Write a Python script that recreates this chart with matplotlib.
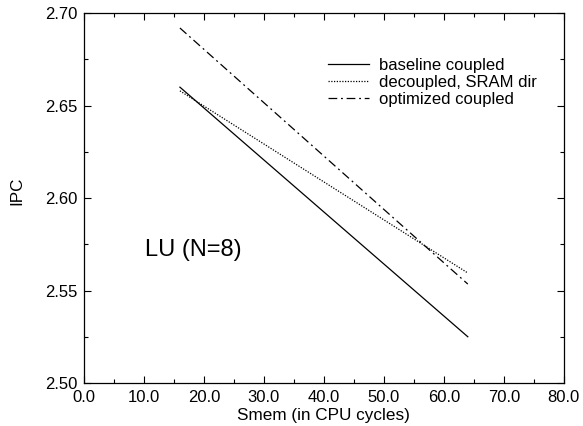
import matplotlib
matplotlib.use("Agg")
import matplotlib.pyplot as plt
from matplotlib.ticker import MultipleLocator, FormatStrFormatter

plt.rcParams['font.family'] = ['Liberation Sans', 'DejaVu Sans']

smem = [16, 64]
baseline = [2.660, 2.525]
decoupled = [2.658, 2.5595]
optimized = [2.692, 2.5535]
labels = ["baseline coupled", "decoupled, SRAM dir", "optimized coupled"]

fig = plt.figure(figsize=(5.83, 4.26), dpi=100)
ax = fig.add_axes([0.144, 0.101, 0.823, 0.868])

ax.plot(smem, baseline, color='black', lw=0.9, linestyle='-', label=labels[0])
ax.plot(smem, decoupled, color='black', lw=0.9, linestyle=(0, (1, 1.2)), label=labels[1])
ax.plot(smem, optimized, color='black', lw=0.9, linestyle=(0, (7, 3, 1.5, 3)), label=labels[2])

ax.set_xlim(0, 80)
ax.set_ylim(2.50, 2.70)
ax.xaxis.set_major_locator(MultipleLocator(10))
ax.xaxis.set_minor_locator(MultipleLocator(5))
ax.yaxis.set_major_locator(MultipleLocator(0.05))
ax.yaxis.set_minor_locator(MultipleLocator(0.025))
ax.xaxis.set_major_formatter(FormatStrFormatter('%.1f'))
ax.yaxis.set_major_formatter(FormatStrFormatter('%.2f'))
ax.tick_params(which='both', direction='in', top=True, right=True, labelsize=12, width=0.8)
ax.tick_params(which='major', length=5)
ax.tick_params(which='minor', length=3)
ax.tick_params(axis='x', which='major', pad=5)
ax.tick_params(axis='y', which='major', pad=4.3)
for s in ax.spines.values():
    s.set_linewidth(0.9)

ax.set_xlabel("Smem (in CPU cycles)", fontsize=12.3)
ax.set_ylabel("IPC", fontsize=12.3)
ax.xaxis.set_label_coords(0.5, -0.068)
ax.yaxis.set_label_coords(-0.125, 0.52)

ax.text(10.2, 2.572, "LU (N=8)", fontsize=17, va='center', ha='left')

leg = ax.legend(loc='upper left', bbox_to_anchor=(0.508, 0.878), frameon=False,
                fontsize=12, handlelength=2.5, handletextpad=0.6, labelspacing=0.11,
                borderaxespad=0, borderpad=0)

fig.savefig("out.png", dpi=100)
